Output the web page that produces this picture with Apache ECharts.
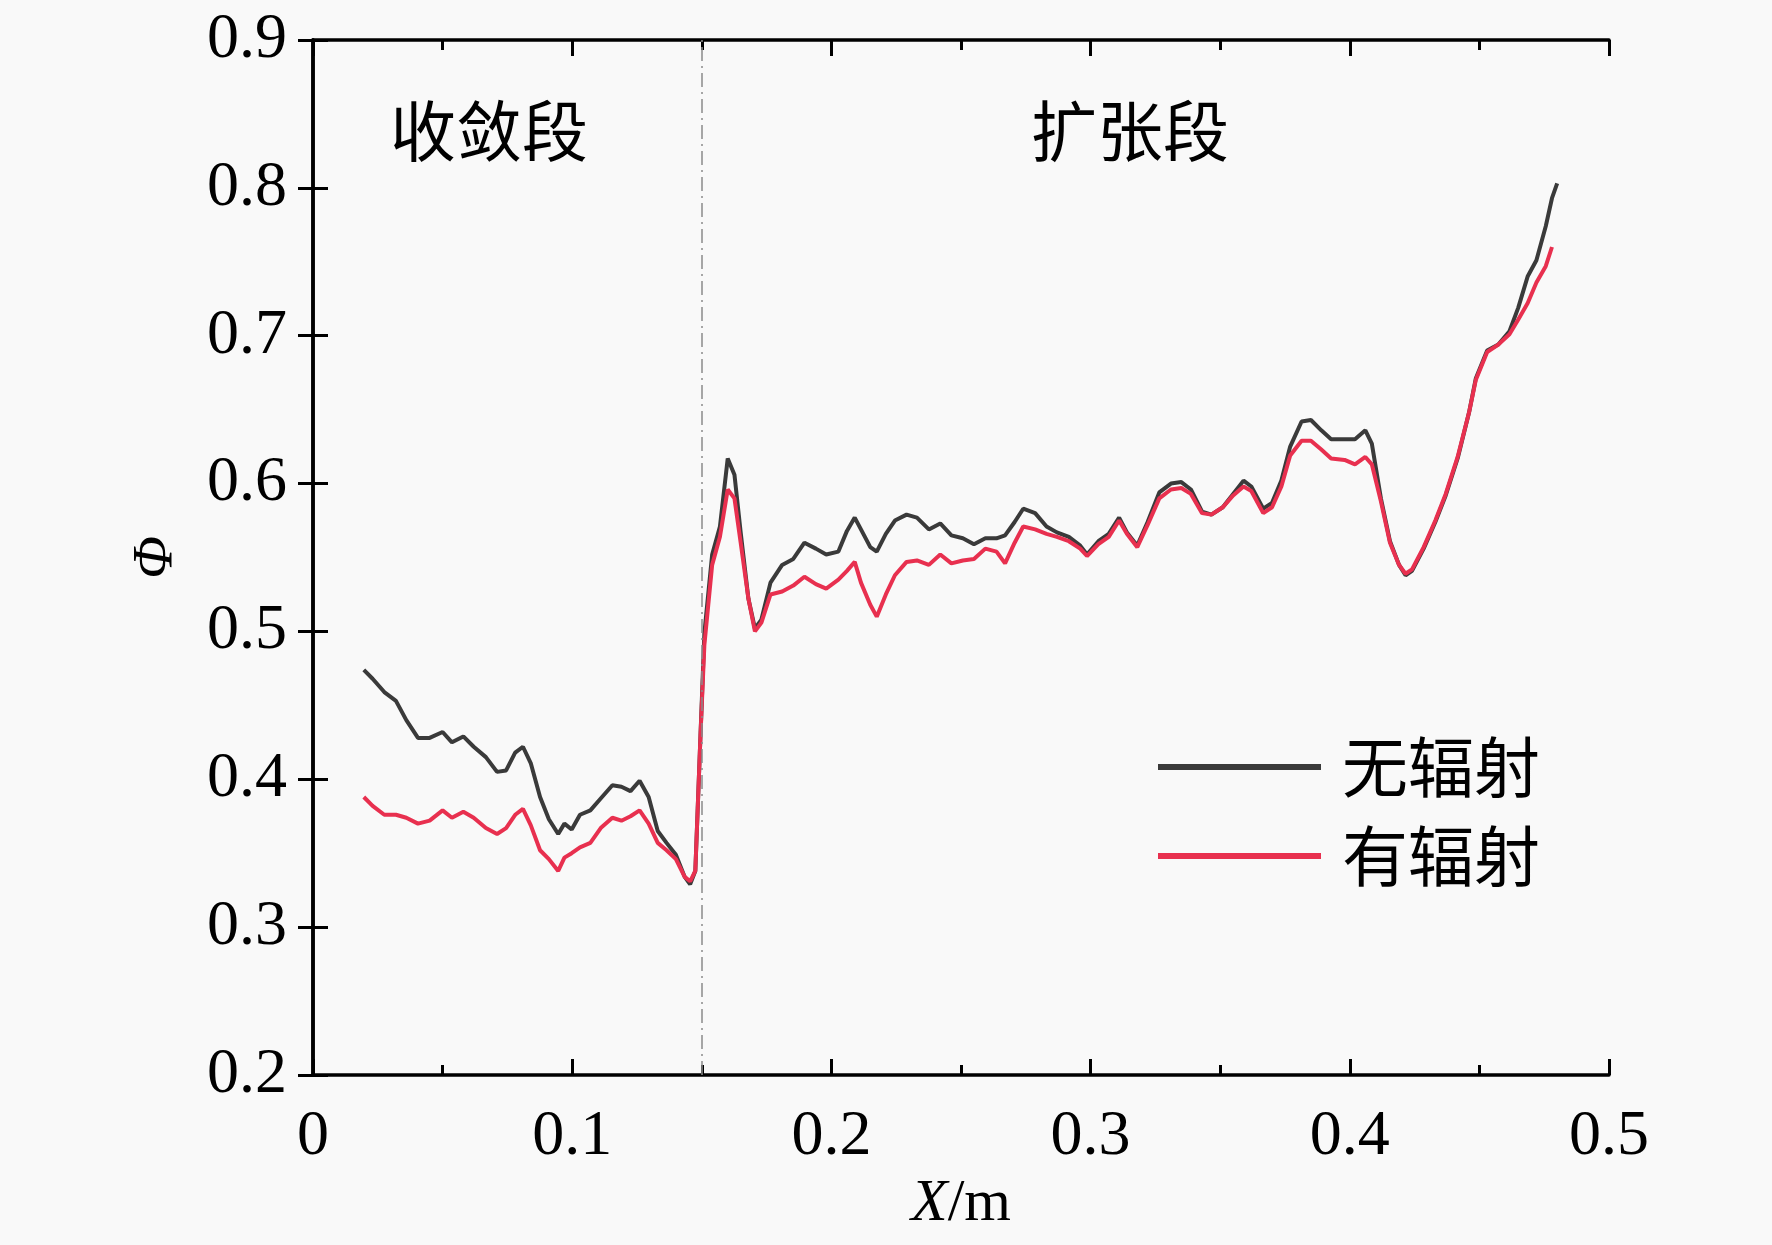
<!DOCTYPE html>
<html>
<head>
<meta charset="utf-8">
<script src="https://cdn.jsdelivr.net/npm/echarts@6/dist/echarts.min.js"></script>
<style>
html,body{margin:0;padding:0;background:#f9f9f9;}
#chart{width:1772px;height:1245px;}
</style>
</head>
<body>
<div id="chart"></div>
<script>
const xValues = [0.0196,0.023,0.0275,0.032,0.036,0.0405,0.045,0.050,0.0536,0.058,0.062,0.0667,0.071,0.0745,0.078,0.081,0.084,0.0876,0.091,0.0946,0.097,0.0998,0.103,0.107,0.111,0.1155,0.119,0.1225,0.126,0.1295,0.133,0.1364,0.140,0.1434,0.1455,0.1475,0.1495,0.151,0.154,0.157,0.160,0.1626,0.165,0.168,0.1705,0.173,0.1765,0.181,0.1853,0.1896,0.194,0.198,0.2027,0.206,0.209,0.2114,0.215,0.2175,0.221,0.2245,0.229,0.233,0.2376,0.242,0.2463,0.2507,0.255,0.2594,0.2637,0.267,0.2707,0.274,0.2786,0.283,0.287,0.2916,0.296,0.2986,0.303,0.307,0.311,0.314,0.318,0.322,0.3265,0.331,0.335,0.3387,0.343,0.3466,0.351,0.355,0.359,0.362,0.3666,0.370,0.3736,0.377,0.3814,0.385,0.389,0.3928,0.398,0.402,0.406,0.4085,0.412,0.4155,0.419,0.4215,0.424,0.4285,0.433,0.437,0.4416,0.446,0.4486,0.453,0.4573,0.4616,0.465,0.4686,0.472,0.4756,0.478,0.48];

const noRadiation = [0.474,0.468,0.459,0.453,0.440,0.428,0.428,0.432,0.425,0.429,0.422,0.415,0.405,0.406,0.418,0.422,0.411,0.388,0.373,0.363,0.370,0.366,0.376,0.379,0.387,0.396,0.395,0.392,0.399,0.388,0.365,0.357,0.349,0.334,0.329,0.338,0.430,0.499,0.552,0.571,0.617,0.606,0.567,0.522,0.502,0.508,0.533,0.545,0.549,0.560,0.556,0.552,0.554,0.568,0.577,0.569,0.557,0.554,0.566,0.575,0.579,0.577,0.569,0.573,0.565,0.563,0.559,0.563,0.563,0.565,0.574,0.583,0.580,0.571,0.567,0.564,0.558,0.552,0.561,0.566,0.577,0.567,0.558,0.574,0.594,0.600,0.601,0.596,0.581,0.579,0.584,0.593,0.602,0.598,0.583,0.587,0.602,0.625,0.642,0.643,0.636,0.630,0.630,0.630,0.636,0.627,0.590,0.561,0.545,0.538,0.541,0.556,0.574,0.592,0.617,0.648,0.671,0.690,0.694,0.703,0.719,0.740,0.751,0.774,0.793,0.803];

const withRadiation = [0.388,0.382,0.376,0.376,0.374,0.370,0.372,0.379,0.374,0.378,0.374,0.367,0.363,0.367,0.376,0.380,0.369,0.352,0.346,0.338,0.347,0.350,0.354,0.357,0.367,0.374,0.372,0.375,0.379,0.370,0.357,0.352,0.346,0.334,0.331,0.338,0.430,0.491,0.545,0.564,0.596,0.590,0.560,0.522,0.500,0.506,0.525,0.527,0.531,0.537,0.532,0.529,0.535,0.541,0.547,0.533,0.518,0.510,0.525,0.538,0.547,0.548,0.545,0.552,0.546,0.548,0.549,0.556,0.554,0.546,0.560,0.571,0.569,0.566,0.564,0.561,0.556,0.551,0.559,0.564,0.575,0.566,0.557,0.572,0.590,0.596,0.597,0.593,0.580,0.579,0.584,0.592,0.598,0.595,0.580,0.584,0.598,0.619,0.629,0.629,0.623,0.617,0.616,0.613,0.618,0.613,0.588,0.560,0.545,0.539,0.542,0.557,0.575,0.593,0.618,0.648,0.670,0.689,0.694,0.701,0.711,0.722,0.736,0.747,0.760,null];

const seriesNames = ['无辐射','有辐射'];
const sectionLabels = ['收敛段','扩张段'];
const throatX = 0.15;

const serif = '"Liberation Serif","DejaVu Serif",serif';
const cjk = '"Noto Sans CJK SC",sans-serif';
const blackColor = '#3a3a3a';
const redColor = '#e8304f';

function pairs(ys){ return xValues.map((x,i)=>[x, ys[i]]); }

const chart = echarts.init(document.getElementById('chart'));
const axisLine = {show:true, lineStyle:{color:'#000', width:3.5}};
const tickStyle = {width:3, color:'#000'};
chart.setOption({
  backgroundColor:'#f9f9f9',
  animation:false,
  grid:{left:313, right:163, top:40, bottom:170},
  legend:{
    left:1153, top:726, orient:'vertical', itemWidth:163, itemHeight:6, itemGap:17,
    icon:'rect',
    textStyle:{fontFamily:cjk, fontSize:66, color:'#000', lineHeight:72, padding:[0,0,0,16]},
    data:[{name:seriesNames[0], itemStyle:{color:blackColor}},{name:seriesNames[1], itemStyle:{color:redColor}}]
  },
  xAxis:[{
    type:'value', min:0, max:0.5, interval:0.1, position:'bottom',
    axisLine:axisLine,
    axisTick:{show:true, inside:true, length:16, lineStyle:tickStyle},
    minorTick:{show:true, splitNumber:2, length:10, lineStyle:tickStyle},
    splitLine:{show:false},
    axisLabel:{fontFamily:serif, fontSize:64, color:'#000', margin:30, formatter:v=>String(+v.toFixed(1))},
    name:'{i|X}/m', nameLocation:'middle', nameGap:98,
    nameTextStyle:{fontFamily:serif, fontSize:60, color:'#000', rich:{i:{fontFamily:serif, fontSize:60, fontStyle:'italic', color:'#000'}}}
  },{
    type:'value', min:0, max:0.5, interval:0.1, position:'top',
    axisLine:axisLine,
    axisTick:{show:true, inside:true, length:16, lineStyle:tickStyle},
    minorTick:{show:true, splitNumber:2, length:10, lineStyle:tickStyle},
    splitLine:{show:false}, axisLabel:{show:false}
  }],
  yAxis:[{
    type:'value', min:0.2, max:0.9, interval:0.1, position:'left',
    axisLine:axisLine,
    axisTick:{show:true, inside:true, length:15, lineStyle:tickStyle},
    splitLine:{show:false},
    axisLabel:{fontFamily:serif, fontSize:64, color:'#000', margin:26, formatter:v=>v.toFixed(1)},
    name:'Φ', nameLocation:'middle', nameGap:128, nameRotate:90,
    nameTextStyle:{fontFamily:serif, fontSize:56, fontStyle:'italic', color:'#000'}
  },{
    type:'value', min:0.2, max:0.9, interval:0.1, position:'right',
    axisLine:axisLine,
    axisTick:{show:true, inside:true, length:15, lineStyle:tickStyle},
    splitLine:{show:false}, axisLabel:{show:false}
  }],
  graphic:[
    {type:'text', left:489-99, top:98, style:{text:sectionLabels[0], font:'400 66px "Noto Sans CJK SC"', fill:'#000'}},
    {type:'text', left:1130-99, top:98, style:{text:sectionLabels[1], font:'400 66px "Noto Sans CJK SC"', fill:'#000'}}
  ],
  series:[{
    name:seriesNames[0], type:'line', data:pairs(noRadiation), showSymbol:false, symbol:'none',
    lineStyle:{color:blackColor, width:4}, itemStyle:{color:blackColor},
    markLine:{silent:true, symbol:'none', label:{show:false},
      lineStyle:{color:'#8a8a8a', width:1.5, type:[14,5,2,5]},
      data:[{xAxis:throatX}]}
  },{
    name:seriesNames[1], type:'line', data:pairs(withRadiation), showSymbol:false, symbol:'none',
    lineStyle:{color:redColor, width:4}, itemStyle:{color:redColor}
  }]
});
</script>
</body>
</html>
